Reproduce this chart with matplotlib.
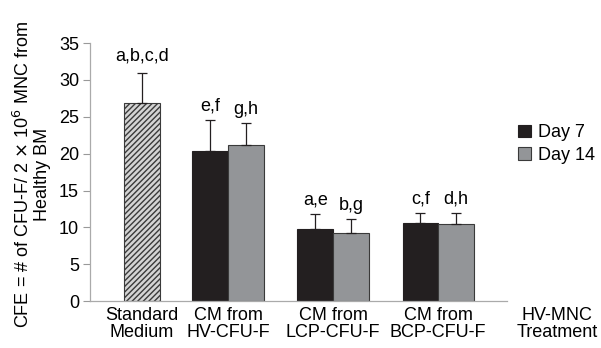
import numpy as np
import matplotlib.pyplot as plt

plt.rcParams['font.family'] = ['Liberation Sans', 'DejaVu Sans']
plt.rcParams['hatch.linewidth'] = 1.0
plt.rcParams['hatch.color'] = '#333333'

groups = ['CM from\nHV-CFU-F', 'CM from\nLCP-CFU-F', 'CM from\nBCP-CFU-F']
day7 = [20.4, 9.8, 10.6]
day7_err = [4.2, 2.0, 1.3]
day14 = [21.2, 9.3, 10.4]
day14_err = [2.9, 1.8, 1.5]
day7_marks = ['e,f', 'a,e', 'c,f']
day14_marks = ['g,h', 'b,g', 'd,h']

std_label = 'Standard\nMedium'
std_value = 26.9
std_err = 4.1
std_mark = 'a,b,c,d'

fs = 13

fig = plt.figure(figsize=(6.01, 3.48), dpi=100)
ax = fig.add_axes([0.150, 0.135, 0.694, 0.741])

w = 0.34
x = np.arange(1, len(groups) + 1)
std_x = 0.18

ebar = dict(elinewidth=0.9, capsize=3.5, capthick=0.9, ecolor='#231f20')

ax.bar(std_x, std_value, 0.35, color='#d4d4d4', edgecolor='#3a3a3a',
       hatch='//////', linewidth=0.8)
ax.errorbar(std_x, std_value, yerr=[[0], [std_err]], fmt='none', **ebar)

b1 = ax.bar(x - w / 2, day7, w, color='#231f20', edgecolor='#231f20',
            linewidth=0.8, label='Day 7')
b2 = ax.bar(x + w / 2, day14, w, color='#939598', edgecolor='#3a3a3a',
            linewidth=0.8, label='Day 14')
ax.errorbar(x - w / 2, day7, yerr=[np.zeros(3), day7_err], fmt='none', **ebar)
ax.errorbar(x + w / 2, day14, yerr=[np.zeros(3), day14_err], fmt='none', **ebar)

# significance letters above the error bars
ax.annotate(std_mark, (std_x, std_value + std_err), xytext=(0, 6),
            textcoords='offset points', ha='center', va='bottom', fontsize=fs)
for xi, v, e, m in zip(x - w / 2, day7, day7_err, day7_marks):
    ax.annotate(m, (xi, v + e), xytext=(0, 4), textcoords='offset points',
                ha='center', va='bottom', fontsize=fs)
for xi, v, e, m in zip(x + w / 2, day14, day14_err, day14_marks):
    ax.annotate(m, (xi, v + e), xytext=(0, 4), textcoords='offset points',
                ha='center', va='bottom', fontsize=fs)

ax.set_xlim(-0.314, 3.657)
ax.set_ylim(0, 35)
ax.set_yticks(range(0, 36, 5))
ax.set_xticks([std_x] + list(x))
ax.set_xticklabels([std_label] + groups, fontsize=fs, linespacing=1.05)
ax.tick_params(axis='x', length=0, pad=4)
ax.tick_params(axis='y', labelsize=fs, length=5, width=0.8, color='#999999',
               direction='out', pad=3)

for s in ['top', 'right']:
    ax.spines[s].set_visible(False)
for s in ['left', 'bottom']:
    ax.spines[s].set_color('#aaaaaa')
    ax.spines[s].set_linewidth(0.9)

ax.annotate('HV-MNC\nTreatment', (4.13, 0), xycoords=('data', 'axes fraction'),
            xytext=(0, -4), textcoords='offset points', ha='center', va='top',
            fontsize=fs, linespacing=1.05, annotation_clip=False)

fig.text(0.053, 0.4986,
         'CFE = # of CFU-F/ 2 $\\times$ 10$^6$ MNC from\nHealthy BM',
         rotation=90, ha='center', va='center', multialignment='center',
         fontsize=13, linespacing=1.05)

ax.legend(handles=[b1, b2], loc='upper left', bbox_to_anchor=(1.026, 0.685),
          frameon=False, fontsize=fs, handlelength=0.7, handleheight=0.7,
          handletextpad=0.4, labelspacing=0.3, borderaxespad=0, borderpad=0)

fig.savefig('out.png', dpi=100)
